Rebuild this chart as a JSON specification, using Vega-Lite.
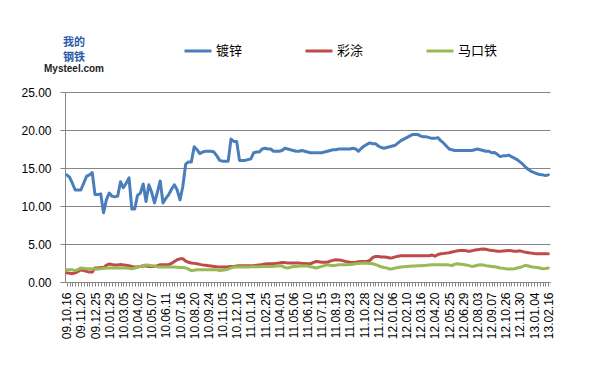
{
  "$schema": "https://vega.github.io/schema/vega-lite/v6.json",
  "autosize": "none",
  "width": 485,
  "height": 190,
  "padding": {"left": 65, "top": 92, "right": 39, "bottom": 99},
  "background": "white",
  "title": {
    "text": ["我的", "钢铁"],
    "subtitle": "Mysteel.com",
    "anchor": "start",
    "align": "center",
    "frame": "group",
    "dx": 9,
    "dy": 52,
    "offset": 14,
    "font": "Noto Sans CJK SC",
    "fontSize": 11,
    "fontWeight": "bold",
    "lineHeight": 15,
    "color": "#2a5caa",
    "subtitleFont": "Liberation Sans",
    "subtitleFontSize": 10,
    "subtitleFontWeight": "bold",
    "subtitleColor": "#222222",
    "subtitlePadding": 1
  },
  "data": {"values": [
{"d":"09.10.16","镀锌":14.1,"彩涂":1.2,"马口铁":1.6},
{"d":"09.10.23","镀锌":13.8,"彩涂":1.15,"马口铁":1.6},
{"d":"09.10.30","镀锌":13.0,"彩涂":1.1,"马口铁":1.6},
{"d":"09.11.06","镀锌":12.1,"彩涂":1.2,"马口铁":1.5},
{"d":"09.11.13","镀锌":12.1,"彩涂":1.4,"马口铁":1.65},
{"d":"09.11.20","镀锌":12.1,"彩涂":1.6,"马口铁":1.85},
{"d":"09.11.27","镀锌":13.0,"彩涂":1.5,"马口铁":1.8},
{"d":"09.12.04","镀锌":13.9,"彩涂":1.4,"马口铁":1.75},
{"d":"09.12.11","镀锌":14.1,"彩涂":1.3,"马口铁":1.75},
{"d":"09.12.18","镀锌":14.4,"彩涂":1.3,"马口铁":1.72},
{"d":"09.12.25","镀锌":11.5,"彩涂":1.85,"马口铁":1.7},
{"d":"10.01.01","镀锌":11.5,"彩涂":1.85,"马口铁":1.7},
{"d":"10.01.08","镀锌":11.6,"彩涂":1.9,"马口铁":1.75},
{"d":"10.01.15","镀锌":9.1,"彩涂":1.9,"马口铁":1.8},
{"d":"10.01.22","镀锌":10.8,"彩涂":2.2,"马口铁":1.85},
{"d":"10.01.29","镀锌":11.7,"彩涂":2.37,"马口铁":1.85},
{"d":"10.02.05","镀锌":11.3,"彩涂":2.3,"马口铁":1.85},
{"d":"10.02.12","镀锌":11.2,"彩涂":2.24,"马口铁":1.85},
{"d":"10.02.19","镀锌":11.3,"彩涂":2.25,"马口铁":1.85},
{"d":"10.02.26","镀锌":13.2,"彩涂":2.3,"马口铁":1.85},
{"d":"10.03.05","镀锌":12.4,"彩涂":2.25,"马口铁":1.85},
{"d":"10.03.12","镀锌":13.0,"彩涂":2.2,"马口铁":1.85},
{"d":"10.03.19","镀锌":13.7,"彩涂":2.15,"马口铁":1.8},
{"d":"10.03.26","镀锌":9.6,"彩涂":2.05,"马口铁":1.75},
{"d":"10.03.30","镀锌":9.6,"彩涂":1.97,"马口铁":1.85},
{"d":"10.04.02","镀锌":11.4,"彩涂":2.0,"马口铁":1.95},
{"d":"10.04.09","镀锌":11.7,"彩涂":2.05,"马口铁":2.05},
{"d":"10.04.16","镀锌":12.9,"彩涂":2.1,"马口铁":2.15},
{"d":"10.04.23","镀锌":10.6,"彩涂":2.1,"马口铁":2.24},
{"d":"10.04.30","镀锌":12.8,"彩涂":2.05,"马口铁":2.2},
{"d":"10.05.07","镀锌":11.8,"彩涂":2.05,"马口铁":2.15},
{"d":"10.05.14","镀锌":10.4,"彩涂":2.05,"马口铁":2.1},
{"d":"10.05.21","镀锌":11.8,"彩涂":2.15,"马口铁":2.0},
{"d":"10.05.28","镀锌":13.3,"彩涂":2.28,"马口铁":1.97},
{"d":"10.06.04","镀锌":10.4,"彩涂":2.28,"马口铁":1.97},
{"d":"10.06.11","镀锌":11.0,"彩涂":2.28,"马口铁":1.97},
{"d":"10.06.18","镀锌":11.5,"彩涂":2.28,"马口铁":1.97},
{"d":"10.06.25","镀锌":12.2,"彩涂":2.45,"马口铁":1.97},
{"d":"10.07.02","镀锌":12.8,"彩涂":2.7,"马口铁":1.97},
{"d":"10.07.09","镀锌":12.1,"彩涂":2.93,"马口铁":1.95},
{"d":"10.07.16","镀锌":10.8,"彩涂":3.05,"马口铁":1.9},
{"d":"10.07.23","镀锌":12.6,"彩涂":3.07,"马口铁":1.9},
{"d":"10.07.30","镀锌":15.5,"彩涂":2.75,"马口铁":1.85},
{"d":"10.08.06","镀锌":15.8,"彩涂":2.6,"马口铁":1.7},
{"d":"10.08.13","镀锌":15.8,"彩涂":2.5,"马口铁":1.5},
{"d":"10.08.20","镀锌":17.8,"彩涂":2.45,"马口铁":1.55},
{"d":"10.08.27","镀锌":17.4,"彩涂":2.4,"马口铁":1.6},
{"d":"10.09.03","镀锌":16.9,"彩涂":2.32,"马口铁":1.6},
{"d":"10.09.10","镀锌":17.1,"彩涂":2.25,"马口铁":1.6},
{"d":"10.09.17","镀锌":17.2,"彩涂":2.2,"马口铁":1.6},
{"d":"10.09.24","镀锌":17.2,"彩涂":2.15,"马口铁":1.6},
{"d":"10.10.08","镀锌":17.2,"彩涂":2.1,"马口铁":1.6},
{"d":"10.10.15","镀锌":17.1,"彩涂":2.05,"马口铁":1.6},
{"d":"10.10.22","镀锌":16.6,"彩涂":2.0,"马口铁":1.6},
{"d":"10.10.29","镀锌":16.0,"彩涂":1.97,"马口铁":1.5},
{"d":"10.11.05","镀锌":15.9,"彩涂":1.97,"马口铁":1.55},
{"d":"10.11.12","镀锌":15.9,"彩涂":1.97,"马口铁":1.6},
{"d":"10.11.19","镀锌":15.9,"彩涂":2.0,"马口铁":1.7},
{"d":"10.11.26","镀锌":18.8,"彩涂":2.05,"马口铁":1.85},
{"d":"10.12.03","镀锌":18.5,"彩涂":2.05,"马口铁":1.97},
{"d":"10.12.10","镀锌":18.5,"彩涂":2.1,"马口铁":1.97},
{"d":"10.12.17","镀锌":16.0,"彩涂":2.15,"马口铁":1.97},
{"d":"10.12.24","镀锌":16.0,"彩涂":2.15,"马口铁":1.97},
{"d":"10.12.31","镀锌":16.0,"彩涂":2.15,"马口铁":1.97},
{"d":"11.01.07","镀锌":16.1,"彩涂":2.15,"马口铁":1.97},
{"d":"11.01.14","镀锌":16.2,"彩涂":2.15,"马口铁":2.0},
{"d":"11.01.21","镀锌":17.0,"彩涂":2.15,"马口铁":2.0},
{"d":"11.01.28","镀锌":17.1,"彩涂":2.2,"马口铁":2.0},
{"d":"11.02.11","镀锌":17.1,"彩涂":2.25,"马口铁":2.0},
{"d":"11.02.18","镀锌":17.5,"彩涂":2.3,"马口铁":2.05},
{"d":"11.02.25","镀锌":17.6,"彩涂":2.37,"马口铁":2.05},
{"d":"11.03.04","镀锌":17.5,"彩涂":2.4,"马口铁":2.05},
{"d":"11.03.11","镀锌":17.5,"彩涂":2.4,"马口铁":2.05},
{"d":"11.03.18","镀锌":17.2,"彩涂":2.4,"马口铁":2.05},
{"d":"11.03.25","镀锌":17.2,"彩涂":2.45,"马口铁":2.1},
{"d":"11.04.01","镀锌":17.2,"彩涂":2.5,"马口铁":2.12},
{"d":"11.04.08","镀锌":17.3,"彩涂":2.58,"马口铁":2.15},
{"d":"11.04.15","镀锌":17.6,"彩涂":2.55,"马口铁":1.9},
{"d":"11.04.22","镀锌":17.5,"彩涂":2.5,"马口铁":1.85},
{"d":"11.04.29","镀锌":17.4,"彩涂":2.5,"马口铁":1.95},
{"d":"11.05.06","镀锌":17.3,"彩涂":2.5,"马口铁":2.05},
{"d":"11.05.13","镀锌":17.2,"彩涂":2.5,"马口铁":2.05},
{"d":"11.05.20","镀锌":17.2,"彩涂":2.5,"马口铁":2.1},
{"d":"11.05.27","镀锌":17.3,"彩涂":2.45,"马口铁":2.12},
{"d":"11.06.03","镀锌":17.2,"彩涂":2.45,"马口铁":2.15},
{"d":"11.06.10","镀锌":17.1,"彩涂":2.4,"马口铁":2.1},
{"d":"11.06.17","镀锌":17.0,"彩涂":2.4,"马口铁":2.0},
{"d":"11.06.24","镀锌":17.0,"彩涂":2.55,"马口铁":1.95},
{"d":"11.07.01","镀锌":17.0,"彩涂":2.7,"马口铁":1.85},
{"d":"11.07.08","镀锌":17.0,"彩涂":2.65,"马口铁":1.95},
{"d":"11.07.15","镀锌":17.0,"彩涂":2.6,"马口铁":2.05},
{"d":"11.07.22","镀锌":17.1,"彩涂":2.6,"马口铁":2.15},
{"d":"11.07.29","镀锌":17.2,"彩涂":2.6,"马口铁":2.28},
{"d":"11.08.05","镀锌":17.3,"彩涂":2.75,"马口铁":2.2},
{"d":"11.08.12","镀锌":17.4,"彩涂":2.85,"马口铁":2.15},
{"d":"11.08.19","镀锌":17.4,"彩涂":2.93,"马口铁":2.2},
{"d":"11.08.26","镀锌":17.5,"彩涂":2.9,"马口铁":2.28},
{"d":"11.09.02","镀锌":17.5,"彩涂":2.85,"马口铁":2.28},
{"d":"11.09.09","镀锌":17.5,"彩涂":2.75,"马口铁":2.28},
{"d":"11.09.16","镀锌":17.5,"彩涂":2.65,"马口铁":2.28},
{"d":"11.09.23","镀锌":17.5,"彩涂":2.6,"马口铁":2.3},
{"d":"11.09.30","镀锌":17.6,"彩涂":2.58,"马口铁":2.35},
{"d":"11.10.07","镀锌":17.5,"彩涂":2.6,"马口铁":2.4},
{"d":"11.10.14","镀锌":17.2,"彩涂":2.65,"马口铁":2.45},
{"d":"11.10.21","镀锌":17.6,"彩涂":2.7,"马口铁":2.48},
{"d":"11.10.28","镀锌":17.9,"彩涂":2.7,"马口铁":2.5},
{"d":"11.11.04","镀锌":18.1,"彩涂":2.7,"马口铁":2.48},
{"d":"11.11.11","镀锌":18.3,"彩涂":2.85,"马口铁":2.45},
{"d":"11.11.18","镀锌":18.2,"彩涂":3.2,"马口铁":2.4},
{"d":"11.11.25","镀锌":18.2,"彩涂":3.37,"马口铁":2.3},
{"d":"11.12.02","镀锌":17.9,"彩涂":3.35,"马口铁":2.15},
{"d":"11.12.09","镀锌":17.7,"彩涂":3.3,"马口铁":2.0},
{"d":"11.12.16","镀锌":17.6,"彩涂":3.3,"马口铁":1.9},
{"d":"11.12.23","镀锌":17.7,"彩涂":3.25,"马口铁":1.85},
{"d":"11.12.30","镀锌":17.8,"彩涂":3.16,"马口铁":1.7},
{"d":"12.01.06","镀锌":17.9,"彩涂":3.2,"马口铁":1.75},
{"d":"12.01.13","镀锌":18.0,"彩涂":3.3,"马口铁":1.85},
{"d":"12.01.20","镀锌":18.3,"彩涂":3.4,"马口铁":1.9},
{"d":"12.01.27","镀锌":18.6,"彩涂":3.46,"马口铁":1.97},
{"d":"12.02.03","镀锌":18.8,"彩涂":3.46,"马口铁":2.02},
{"d":"12.02.10","镀锌":19.0,"彩涂":3.46,"马口铁":2.05},
{"d":"12.02.17","镀锌":19.2,"彩涂":3.46,"马口铁":2.08},
{"d":"12.02.24","镀锌":19.4,"彩涂":3.46,"马口铁":2.1},
{"d":"12.03.02","镀锌":19.4,"彩涂":3.46,"马口铁":2.12},
{"d":"12.03.09","镀锌":19.4,"彩涂":3.46,"马口铁":2.15},
{"d":"12.03.16","镀锌":19.2,"彩涂":3.46,"马口铁":2.15},
{"d":"12.03.23","镀锌":19.1,"彩涂":3.46,"马口铁":2.18},
{"d":"12.03.30","镀锌":19.1,"彩涂":3.46,"马口铁":2.2},
{"d":"12.04.06","镀锌":19.0,"彩涂":3.46,"马口铁":2.25},
{"d":"12.04.13","镀锌":18.9,"彩涂":3.55,"马口铁":2.28},
{"d":"12.04.20","镀锌":18.9,"彩涂":3.4,"马口铁":2.28},
{"d":"12.04.27","镀锌":19.0,"彩涂":3.6,"马口铁":2.28},
{"d":"12.05.04","镀锌":18.6,"彩涂":3.72,"马口铁":2.28},
{"d":"12.05.11","镀锌":18.3,"彩涂":3.75,"马口铁":2.28},
{"d":"12.05.18","镀锌":17.9,"彩涂":3.8,"马口铁":2.28},
{"d":"12.05.25","镀锌":17.5,"彩涂":3.85,"马口铁":2.25},
{"d":"12.06.01","镀锌":17.4,"彩涂":3.95,"马口铁":2.15},
{"d":"12.06.08","镀锌":17.3,"彩涂":4.03,"马口铁":2.35},
{"d":"12.06.15","镀锌":17.3,"彩涂":4.1,"马口铁":2.4},
{"d":"12.06.22","镀锌":17.3,"彩涂":4.15,"马口铁":2.35},
{"d":"12.06.29","镀锌":17.3,"彩涂":4.16,"马口铁":2.3},
{"d":"12.07.06","镀锌":17.3,"彩涂":4.1,"马口铁":2.25},
{"d":"12.07.13","镀锌":17.3,"彩涂":4.03,"马口铁":2.15},
{"d":"12.07.20","镀锌":17.3,"彩涂":4.1,"马口铁":2.05},
{"d":"12.07.27","镀锌":17.4,"彩涂":4.2,"马口铁":2.1},
{"d":"12.08.03","镀锌":17.5,"彩涂":4.25,"马口铁":2.2},
{"d":"12.08.10","镀锌":17.4,"彩涂":4.3,"马口铁":2.28},
{"d":"12.08.17","镀锌":17.3,"彩涂":4.34,"马口铁":2.25},
{"d":"12.08.24","镀锌":17.2,"彩涂":4.3,"马口铁":2.15},
{"d":"12.08.31","镀锌":17.2,"彩涂":4.2,"马口铁":2.1},
{"d":"12.09.07","镀锌":17.0,"彩涂":4.16,"马口铁":2.05},
{"d":"12.09.14","镀锌":17.05,"彩涂":4.1,"马口铁":2.0},
{"d":"12.09.21","镀锌":16.8,"彩涂":4.05,"马口铁":1.95},
{"d":"12.09.28","镀锌":16.5,"彩涂":4.03,"马口铁":1.85},
{"d":"12.10.19","镀锌":16.6,"彩涂":4.08,"马口铁":1.8},
{"d":"12.10.26","镀锌":16.6,"彩涂":4.12,"马口铁":1.75},
{"d":"12.11.02","镀锌":16.7,"彩涂":4.16,"马口铁":1.72},
{"d":"12.11.09","镀锌":16.5,"彩涂":4.1,"马口铁":1.7},
{"d":"12.11.16","镀锌":16.3,"彩涂":4.03,"马口铁":1.75},
{"d":"12.11.23","镀锌":16.1,"彩涂":4.05,"马口铁":1.85},
{"d":"12.11.30","镀锌":15.8,"彩涂":4.1,"马口铁":1.9},
{"d":"12.12.07","镀锌":15.5,"彩涂":4.0,"马口铁":2.05},
{"d":"12.12.14","镀锌":15.1,"彩涂":3.9,"马口铁":2.2},
{"d":"12.12.21","镀锌":14.8,"彩涂":3.85,"马口铁":2.1},
{"d":"12.12.28","镀锌":14.55,"彩涂":3.8,"马口铁":2.0},
{"d":"13.01.04","镀锌":14.4,"彩涂":3.75,"马口铁":1.95},
{"d":"13.01.11","镀锌":14.25,"彩涂":3.72,"马口铁":1.9},
{"d":"13.01.18","镀锌":14.15,"彩涂":3.72,"马口铁":1.85},
{"d":"13.01.25","镀锌":14.1,"彩涂":3.72,"马口铁":1.75},
{"d":"13.02.01","镀锌":14.0,"彩涂":3.72,"马口铁":1.78},
{"d":"13.02.16","镀锌":14.1,"彩涂":3.72,"马口铁":1.85}
  ]},
  "transform": [{"fold": ["镀锌", "彩涂", "马口铁"], "as": ["s", "v"]}],
  "mark": {"type": "line", "strokeWidth": 3, "strokeJoin": "round", "strokeCap": "round"},
  "encoding": {
    "x": {
      "field": "d", "type": "ordinal", "sort": null,
      "scale": {"type": "point", "padding": 0.6},
      "axis": {
        "title": null,
        "labelAngle": -90,
        "labelOverlap": false,
        "labelPadding": 6,
        "tickSize": 4,
        "labelExpr": "indexof(['09.10.16','09.11.20','09.12.25','10.01.29','10.03.05','10.04.02','10.05.07','10.06.11','10.07.16','10.08.20','10.09.24','10.11.05','10.12.10','11.01.14','11.02.25','11.04.01','11.05.06','11.06.10','11.07.15','11.08.19','11.09.23','11.10.28','11.12.02','12.01.06','12.02.10','12.03.16','12.04.20','12.05.25','12.06.29','12.08.03','12.09.07','12.10.26','12.11.30','13.01.04','13.02.16'], datum.value) >= 0 ? datum.value : ''"
      }
    },
    "y": {
      "field": "v", "type": "quantitative",
      "scale": {"domain": [0, 25], "nice": false},
      "axis": {"title": null, "values": [0, 5, 10, 15, 20, 25], "format": ".2f", "tickSize": 5, "labelPadding": 9, "grid": true}
    },
    "color": {
      "field": "s", "type": "nominal",
      "scale": {"domain": ["镀锌", "彩涂", "马口铁"], "range": ["#4A7EBB", "#BE4B48", "#98B954"]},
      "legend": {
        "title": null,
        "orient": "none",
        "direction": "horizontal",
        "legendX": 118,
        "legendY": -56,
        "symbolType": "stroke",
        "symbolSize": 729,
        "symbolStrokeWidth": 3,
        "labelOffset": 3,
        "columnPadding": 56,
        "labelFont": "Noto Sans CJK SC",
        "labelFontSize": 13,
        "labelColor": "#000000"
      }
    }
  },
  "config": {
    "view": {"stroke": null},
    "axis": {
      "labelFont": "Liberation Sans",
      "labelFontSize": 12,
      "labelColor": "#000000",
      "domainColor": "#868686",
      "tickColor": "#868686",
      "gridColor": "#868686",
      "gridOpacity": 1,
      "domainWidth": 1,
      "tickWidth": 1
    }
  }
}
